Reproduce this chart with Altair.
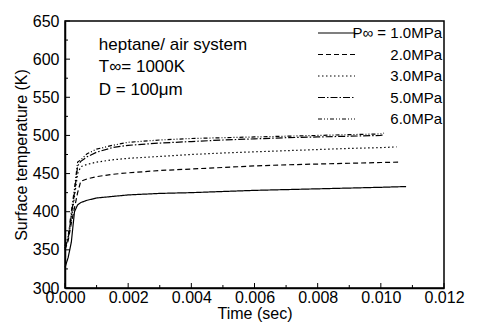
import altair as alt
import pandas as pd

# ---- data ----
times = [0.0, 0.0001, 0.0002, 0.0003, 0.0004, 0.0005, 0.0007, 0.001, 0.0015,
         0.002, 0.003, 0.004, 0.005, 0.006, 0.007, 0.008, 0.009, 0.010]
series_names = ["P\u221e = 1.0MPa", "2.0MPa", "3.0MPa", "5.0MPa", "6.0MPa"]
end_times = [0.0108, 0.0106, 0.0105, 0.0101, 0.0101]

T_1MPa = [327, 340, 360, 400, 409, 412, 415, 418, 420, 422, 424, 425, 426.5, 428, 429, 430, 431, 432, 433]
T_2MPa = [350, 362, 385, 405, 425, 440, 443, 446, 449, 451, 454, 456, 458, 460, 461.5, 462.5, 463.5, 464.5, 465]
T_3MPa = [352, 365, 390, 420, 450, 459, 462, 465, 468, 470, 472.5, 475, 477, 478.5, 480, 481.5, 483, 484, 485]
T_5MPa = [352, 365, 395, 425, 460, 466, 472, 478, 484, 487, 490, 492, 494, 495.5, 497, 498, 499, 500, 501]
T_6MPa = [355, 368, 400, 430, 465, 468, 476, 482, 487, 491, 494, 496, 497, 498, 499, 500, 501, 502, 503]
all_T = [T_1MPa, T_2MPa, T_3MPa, T_5MPa, T_6MPa]

dash_styles = [[1, 0], [5, 3], [1.5, 2.5], [7, 2, 1.5, 2], [4, 2, 1, 2, 1, 2]]

x_major = [0.0, 0.002, 0.004, 0.006, 0.008, 0.010, 0.012]
x_minor = [0.001, 0.003, 0.005, 0.007, 0.009, 0.011]
y_major = [300, 350, 400, 450, 500, 550, 600, 650]
y_minor = [325, 375, 425, 475, 525, 575, 625]

notes = ["heptane/ air system", "T\u221e= 1000K", "D = 100\u03bcm"]
note_x = [0.00107, 0.00107, 0.00107]
note_y = [619, 590, 560]

# ---- build tables ----
rows = []
for name, te, Ts in zip(series_names, end_times, all_T):
    ts = times + [te]
    for i, (t, T) in enumerate(zip(ts, Ts)):
        rows.append({"t": t, "T": T, "series": name, "order": i})
df = pd.DataFrame(rows)

W, H = 462, 318  # whole chart (autosize fit)
font = "Liberation Sans"

xscale = alt.Scale(domain=[0, 0.012], nice=False, padding=0, zero=False)
yscale = alt.Scale(domain=[300, 650], nice=False, padding=0, zero=False)
xaxis = alt.Axis(title="Time (sec)", values=x_major, format=".3f",
                 labelPadding=1, titlePadding=0)
yaxis = alt.Axis(title="Surface temperature (K)", values=y_major,
                 format="d", labelPadding=6, titlePadding=3)

lines = alt.Chart(df).mark_line(color="black", strokeWidth=1.2).encode(
    x=alt.X("t:Q", scale=xscale, axis=xaxis, title="Time (sec)"),
    y=alt.Y("T:Q", scale=yscale, axis=yaxis, title="Surface temperature (K)"),
    strokeDash=alt.StrokeDash(
        "series:N",
        scale=alt.Scale(domain=series_names, range=dash_styles),
        sort=series_names,
        legend=alt.Legend(
            title=None, orient="none", legendX=252, legendY=4,
            symbolType="stroke", symbolSize=1369, symbolStrokeWidth=1.2,
            symbolStrokeColor="black", labelFont=font, labelFontSize=15,
            labelColor="black", labelAlign="right", labelOffset=86,
            clipHeight=16, rowPadding=5.5, padding=0, labelLimit=200,
        ),
    ),
    order="order:Q",
)

def xticks(vals, length):
    return alt.Chart(pd.DataFrame({"t": vals})).mark_rule(color="black", strokeWidth=1).encode(
        x=alt.X("t:Q", scale=xscale, axis=xaxis, title="Time (sec)"),
        y=alt.value({"expr": "height"}),
        y2=alt.value({"expr": f"height - {length}"}))

def yticks(vals, length):
    return alt.Chart(pd.DataFrame({"T": vals})).mark_rule(color="black", strokeWidth=1).encode(
        y=alt.Y("T:Q", scale=yscale, axis=yaxis, title="Surface temperature (K)"),
        x=alt.value(0), x2=alt.value(length))

text = alt.Chart(pd.DataFrame({"label": notes, "t": note_x, "T": note_y})).mark_text(
    align="left", baseline="middle", font=font, fontSize=17, color="black"
).encode(x=alt.X("t:Q", scale=xscale, axis=xaxis, title="Time (sec)"),
         y=alt.Y("T:Q", scale=yscale, axis=yaxis, title="Surface temperature (K)"),
         text="label:N")

chart = alt.layer(lines, xticks(x_major, 5), xticks(x_minor, 3),
                  yticks(y_major, 5), yticks(y_minor, 3), text).properties(
    width=W, height=H, background="white",
    autosize=alt.AutoSizeParams(type="fit", contains="padding"),
).configure_view(
    stroke="black", strokeWidth=1.5
).configure_axis(
    labelFont=font, titleFont=font, labelFontSize=16, titleFontSize=16,
    titleFontWeight="normal", labelColor="black", titleColor="black",
    domainColor="black", domainWidth=1.5, tickSize=0, grid=False,
    labelFlush=False, labelOverlap=False,
)

chart.save("out.html", embed_options={"renderer": "svg", "actions": False})
